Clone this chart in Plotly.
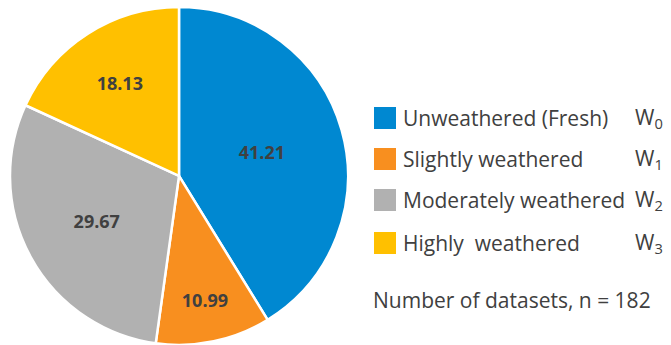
import plotly.graph_objects as go

# Weathering grade shares (%)
categories = ["Unweathered (Fresh)", "Slightly weathered", "Moderately weathered", "Highly  weathered"]
grades = ["W<sub>0</sub>", "W<sub>1</sub>", "W<sub>2</sub>", "W<sub>3</sub>"]
shares = [41.21, 10.99, 29.67, 18.13]
colors = ["#0088D1", "#F88F1F", "#B1B1B1", "#FFC000"]
n_datasets = 182

W, H = 671, 345
TXT = "#404040"
FONT = "Open Sans"

fig = go.Figure(go.Pie(
    labels=categories,
    values=shares,
    sort=False,
    direction="clockwise",
    rotation=0,
    marker=dict(colors=colors, line=dict(color="white", width=2.5)),
    texttemplate="<b>%{value:.2f}</b>",
    textposition="inside",
    insidetextorientation="horizontal",
    textfont=dict(family=FONT, size=18, color=TXT),
    domain=dict(x=[10 / W, 348 / W], y=[0, 0.98]),
    showlegend=False,
    hoverinfo="label+value",
))

# Legend drawn as swatches + labels
row_y = [118, 159, 200, 243]
for i, (cat, g, c) in enumerate(zip(categories, grades, colors)):
    y = row_y[i]
    fig.add_shape(type="rect", xref="paper", yref="paper",
                  x0=374 / W, x1=396 / W, y0=1 - (y + 11) / H, y1=1 - (y - 11) / H,
                  fillcolor=c, line=dict(width=0))
    fig.add_annotation(x=401 / W, y=1 - y / H, xref="paper", yref="paper",
                       text=cat.replace("  ", "&nbsp; "), showarrow=False,
                       xanchor="left", yanchor="middle",
                       font=dict(family=FONT, size=21, color=TXT))
    fig.add_annotation(x=633 / W, y=1 - y / H, xref="paper", yref="paper",
                       text=g, showarrow=False, xanchor="left", yanchor="middle",
                       font=dict(family=FONT, size=21, color=TXT))

fig.add_annotation(x=371 / W, y=1 - 300 / H, xref="paper", yref="paper",
                   text=f"Number of datasets, n = {n_datasets}", showarrow=False,
                   xanchor="left", yanchor="middle",
                   font=dict(family=FONT, size=21, color=TXT))

fig.update_layout(width=W, height=H, margin=dict(l=0, r=0, t=0, b=0),
                  paper_bgcolor="white", plot_bgcolor="white")
fig.write_html("out.html")
